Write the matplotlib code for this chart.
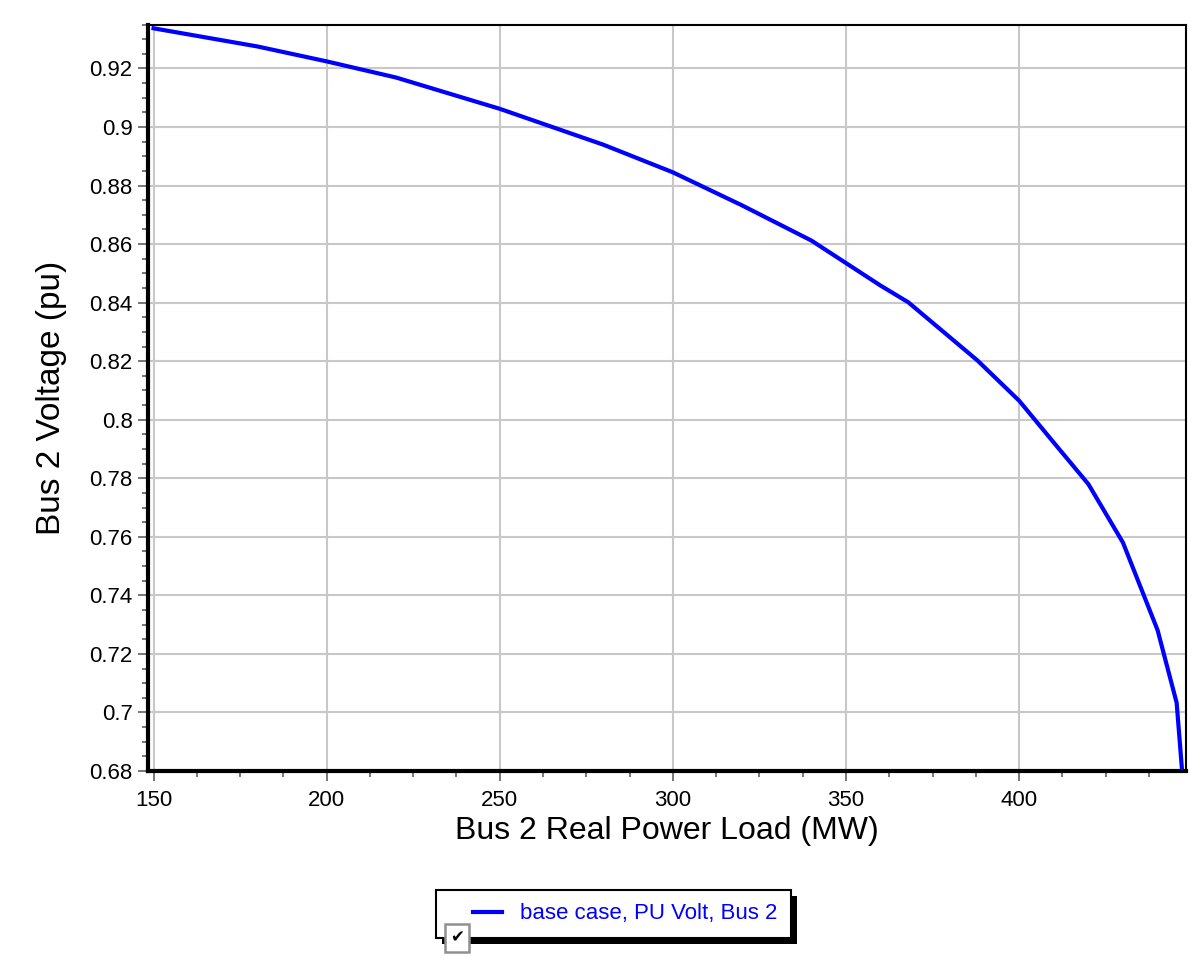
import matplotlib.pyplot as plt
from matplotlib.patches import Rectangle
from matplotlib.ticker import MultipleLocator, FixedLocator
from matplotlib.legend_handler import HandlerLine2D

plt.rcParams['font.family'] = ['Liberation Sans', 'DejaVu Sans']

load_mw = [150, 180, 200, 220, 250, 280, 300, 320, 340, 360, 368, 388,
           400, 410, 420, 430, 440, 445.5, 447]
voltage_pu = [0.9337, 0.9275, 0.9224, 0.9169, 0.9062, 0.8939, 0.8845, 0.8732,
              0.8612, 0.8458, 0.8401, 0.8202, 0.8065, 0.7922, 0.778, 0.758,
              0.7281, 0.7033, 0.6811]
series_label = 'base case, PU Volt, Bus 2'
x_ticks = [150, 200, 250, 300, 350, 400]
y_ticks = [0.68, 0.7, 0.72, 0.74, 0.76, 0.78, 0.8, 0.82, 0.84, 0.86, 0.88, 0.9, 0.92]
y_tick_labels = ['0.68', '0.7', '0.72', '0.74', '0.76', '0.78', '0.8', '0.82',
                 '0.84', '0.86', '0.88', '0.9', '0.92']

W, H = 1191, 959
fig = plt.figure(figsize=(W / 100, H / 100), dpi=100)
ax = fig.add_axes([148 / W, 1 - 771 / H, (1186 - 148) / W, (771 - 24.5) / H])

line, = ax.plot(load_mw, voltage_pu, color='#0000ff', lw=3, label=series_label,
                solid_joinstyle='round', zorder=3)

ax.set_xlim(148.4, 448.2)
ax.set_ylim(0.68, 0.935)
ax.xaxis.set_major_locator(FixedLocator(x_ticks))
ax.xaxis.set_minor_locator(MultipleLocator(12.5))
ax.yaxis.set_major_locator(FixedLocator(y_ticks))
ax.set_yticklabels(y_tick_labels)
ax.yaxis.set_minor_locator(MultipleLocator(0.005))

ax.grid(True, which='major', color='#c8c8c8', lw=1.5)
ax.set_axisbelow(True)

ax.tick_params(axis='both', which='major', direction='out', length=7, width=1.2,
               color='#606060', labelsize=16)
ax.tick_params(axis='both', which='minor', direction='out', length=4, width=1.2,
               color='#606060')
ax.tick_params(axis='y', which='major', pad=4)
ax.tick_params(axis='x', which='major', pad=7)

for side in ['left', 'bottom']:
    ax.spines[side].set_linewidth(3)
for side in ['top', 'right']:
    ax.spines[side].set_linewidth(1.5)
for s in ax.spines.values():
    s.set_color('black')

ax.set_xlabel('Bus 2 Real Power Load (MW)', fontsize=23, labelpad=3)
ax.set_ylabel('Bus 2 Voltage (pu)', fontsize=24, labelpad=16)

leg = fig.legend(handles=[line], loc='upper left',
                 bbox_to_anchor=(436 / W, 1 - 890 / H), borderaxespad=0,
                 fancybox=False, edgecolor='black', framealpha=1,
                 fontsize=16, numpoints=2, handlelength=3.4, borderpad=0.6,
                 handletextpad=-0.2, labelcolor='#0000ff',
                 handler_map={line: HandlerLine2D(numpoints=2, marker_pad=1.05)})
leg.get_frame().set_linewidth(1.5)
leg.set_zorder(5)

fig.canvas.draw()
bb = leg.get_window_extent().transformed(fig.transFigure.inverted())
fig.patches.append(Rectangle((bb.x0 + 6 / W, bb.y0 - 6 / H), bb.width, bb.height,
                             transform=fig.transFigure, facecolor='black',
                             edgecolor='none', zorder=4))
fig.text(bb.x0 + 21 / W, bb.y0, '\u2714', fontsize=12,
         family=['DejaVu Sans'], ha='center', va='center', zorder=6,
         bbox=dict(boxstyle='square,pad=0.3', facecolor='white',
                   edgecolor='#909090', lw=1.8))

fig.savefig('out.png', dpi=100)
